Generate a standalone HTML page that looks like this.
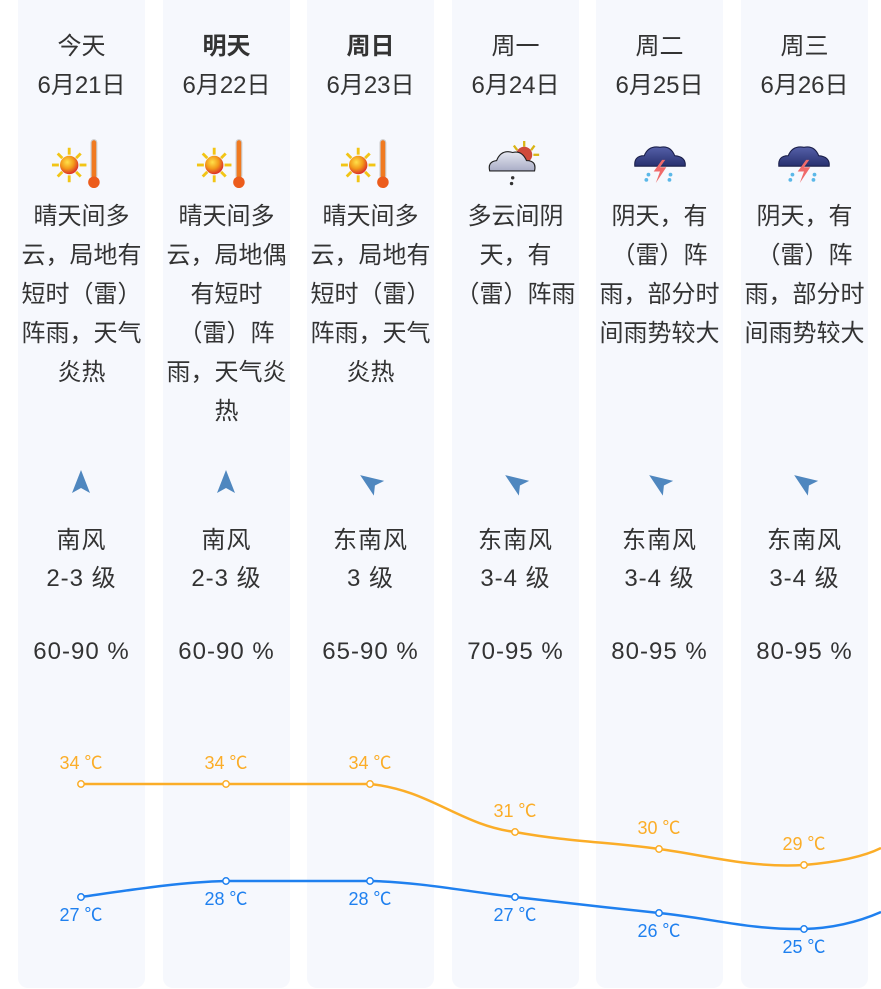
<!DOCTYPE html>
<html><head><meta charset="utf-8">
<style>
html,body{margin:0;padding:0;background:#fff;width:881px;height:989px;overflow:hidden;position:relative;font-family:"Liberation Sans","Noto Sans CJK SC",sans-serif;color:#333}
.col{position:absolute;top:-12px;width:127px;height:1000px;background:#f6f8fd;border-radius:10px}
.t{position:absolute;width:127px;text-align:center;font-size:24px;line-height:39px;white-space:nowrap}
.n{letter-spacing:1px}
svg{position:absolute;left:0;top:0}
</style></head><body>
<div class="col" style="left:18px"></div>
<div class="col" style="left:163px"></div>
<div class="col" style="left:307px"></div>
<div class="col" style="left:452px"></div>
<div class="col" style="left:596px"></div>
<div class="col" style="left:741px"></div>

<div class="t" style="left:18px;top:27px">今天<br>6月21日</div>
<div class="t" style="left:163px;top:27px"><b>明天</b><br>6月22日</div>
<div class="t" style="left:307px;top:27px"><b>周日</b><br>6月23日</div>
<div class="t" style="left:452px;top:27px">周一<br>6月24日</div>
<div class="t" style="left:596px;top:27px">周二<br>6月25日</div>
<div class="t" style="left:741px;top:27px">周三<br>6月26日</div>

<div class="t" style="left:18px;top:197px">晴天间多<br>云，局地有<br>短时（雷）<br>阵雨，天气<br>炎热</div>
<div class="t" style="left:163px;top:197px">晴天间多<br>云，局地偶<br>有短时<br>（雷）阵<br>雨，天气炎<br>热</div>
<div class="t" style="left:307px;top:197px">晴天间多<br>云，局地有<br>短时（雷）<br>阵雨，天气<br>炎热</div>
<div class="t" style="left:452px;top:197px">多云间阴<br>天，有<br>（雷）阵雨</div>
<div class="t" style="left:596px;top:197px">阴天，有<br>（雷）阵<br>雨，部分时<br>间雨势较大</div>
<div class="t" style="left:741px;top:197px">阴天，有<br>（雷）阵<br>雨，部分时<br>间雨势较大</div>

<div class="t n" style="left:18px;top:522px;line-height:38px">南风<br>2-3 级</div>
<div class="t n" style="left:163px;top:522px;line-height:38px">南风<br>2-3 级</div>
<div class="t n" style="left:307px;top:522px;line-height:38px">东南风<br>3 级</div>
<div class="t n" style="left:452px;top:522px;line-height:38px">东南风<br>3-4 级</div>
<div class="t n" style="left:596px;top:522px;line-height:38px">东南风<br>3-4 级</div>
<div class="t n" style="left:741px;top:522px;line-height:38px">东南风<br>3-4 级</div>

<div class="t n" style="left:18px;top:632px">60-90 %</div>
<div class="t n" style="left:163px;top:632px">60-90 %</div>
<div class="t n" style="left:307px;top:632px">65-90 %</div>
<div class="t n" style="left:452px;top:632px">70-95 %</div>
<div class="t n" style="left:596px;top:632px">80-95 %</div>
<div class="t n" style="left:741px;top:632px">80-95 %</div>

<svg width="881" height="989" viewBox="0 0 881 989">
<defs>
<radialGradient id="sun" cx="0.4" cy="0.35" r="0.7"><stop offset="0" stop-color="#ffe04a"/><stop offset="0.5" stop-color="#f39a1a"/><stop offset="1" stop-color="#d8202a"/></radialGradient>
<linearGradient id="cl" x1="0" y1="0" x2="0" y2="1"><stop offset="0" stop-color="#e4e6f0"/><stop offset="1" stop-color="#a9adc6"/></linearGradient>
<linearGradient id="dc" x1="0" y1="0" x2="0" y2="1"><stop offset="0" stop-color="#5560a8"/><stop offset="1" stop-color="#27306f"/></linearGradient>
<g id="hot">
<g stroke="#f2c515" stroke-width="2.5">
<line x1="-27" y1="0" x2="-21" y2="0"/><line x1="-3" y1="0" x2="3" y2="0"/>
<line x1="-12" y1="-15" x2="-12" y2="-9"/><line x1="-12" y1="9" x2="-12" y2="15"/>
<line x1="-22" y1="-10" x2="-18" y2="-6"/><line x1="-6" y1="6" x2="-2" y2="10"/>
<line x1="-22" y1="10" x2="-18" y2="6"/><line x1="-6" y1="-6" x2="-2" y2="-10"/>
</g>
<circle cx="-12" cy="0" r="8" fill="url(#sun)"/>
<rect x="7" y="-22" width="5" height="34" rx="2.5" fill="#f07a20" stroke="#ccc" stroke-width="1"/>
<circle cx="9.5" cy="15" r="5" fill="#ec5c1c"/>
</g>
<g id="pc">
<g stroke="#d9b415" stroke-width="2"><line x1="8" y1="-20" x2="8" y2="-15"/><line x1="17" y1="-16" x2="14" y2="-12"/><line x1="-1" y1="-16" x2="2" y2="-12"/><line x1="21" y1="-8" x2="16" y2="-8"/></g>
<circle cx="8" cy="-8" r="7" fill="#d04a3a"/>
<path d="M-22 6 Q-24 -2 -16 -3 Q-12 -13 -2 -10 Q6 -12 10 -3 Q19 -3 17 6 Z" fill="url(#cl)" stroke="#222" stroke-width="1"/>
<circle cx="-2" cy="12" r="1.5" fill="#333"/><circle cx="-3" cy="17" r="1.5" fill="#333"/>
</g>
<g id="st">
<path d="M-24 4 Q-25 -6 -15 -6 Q-11 -16 0 -14 Q10 -16 14 -6 Q25 -5 24 4 Z" fill="url(#dc)" stroke="#1a1f4a" stroke-width="1"/>
<path d="M2 -2 L-6 9 L0 9 L-4 20 L6 5 L0 5 L5 -2 Z" fill="#f06a6a"/>
<g fill="#5bb8e8"><circle cx="-11" cy="12" r="1.8"/><circle cx="-13" cy="17" r="1.8"/><circle cx="10" cy="12" r="1.8"/><circle cx="9" cy="17" r="1.8"/></g>
</g>
<path id="ar" d="M0 -12 L9 11 L0 6 L-9 11 Z" fill="#4f87bf"/>
</defs>
<use href="#hot" transform="translate(83,165) scale(1.15)"/>
<use href="#hot" transform="translate(228,165) scale(1.15)"/>
<use href="#hot" transform="translate(372,165) scale(1.15)"/>
<use href="#pc" transform="translate(515,164) scale(1.15)"/>
<use href="#st" transform="translate(660,162) scale(1.05)"/>
<use href="#st" transform="translate(804,162) scale(1.05)"/>

<use href="#ar" transform="translate(81,482)"/>
<use href="#ar" transform="translate(226,482)"/>
<use href="#ar" transform="translate(370,482) rotate(-55)"/>
<use href="#ar" transform="translate(515,482) rotate(-55)"/>
<use href="#ar" transform="translate(659,482) rotate(-55)"/>
<use href="#ar" transform="translate(804,482) rotate(-55)"/>

<path d="M81 784 L226 784 L370 784 C430 790 460 825 515 832 C570 842 610 842 659 849 C710 856 750 868 804 865 C840 862 865 856 881 848" fill="none" stroke="#fbad28" stroke-width="2.5"/>
<path d="M81 897 C130 890 180 882 226 881 L370 881 C420 882 470 892 515 897 C570 903 610 908 659 913 C710 918 750 930 804 929 C840 928 865 919 881 912" fill="none" stroke="#1f80ef" stroke-width="2.5"/>
<g fill="#fff" stroke="#fbad28" stroke-width="1.5">
<circle cx="81" cy="784" r="3.2"/><circle cx="226" cy="784" r="3.2"/><circle cx="370" cy="784" r="3.2"/><circle cx="515" cy="832" r="3.2"/><circle cx="659" cy="849" r="3.2"/><circle cx="804" cy="865" r="3.2"/>
</g>
<g fill="#fff" stroke="#1f80ef" stroke-width="1.5">
<circle cx="81" cy="897" r="3.2"/><circle cx="226" cy="881" r="3.2"/><circle cx="370" cy="881" r="3.2"/><circle cx="515" cy="897" r="3.2"/><circle cx="659" cy="913" r="3.2"/><circle cx="804" cy="929" r="3.2"/>
</g>
<g font-family="Liberation Sans, Noto Sans CJK SC, sans-serif" font-size="18" text-anchor="middle" fill="#fbad28">
<text x="81" y="769">34 ℃</text><text x="226" y="769">34 ℃</text><text x="370" y="769">34 ℃</text><text x="515" y="817">31 ℃</text><text x="659" y="834">30 ℃</text><text x="804" y="850">29 ℃</text>
</g>
<g font-family="Liberation Sans, Noto Sans CJK SC, sans-serif" font-size="18" text-anchor="middle" fill="#1f80ef">
<text x="81" y="921">27 ℃</text><text x="226" y="905">28 ℃</text><text x="370" y="905">28 ℃</text><text x="515" y="921">27 ℃</text><text x="659" y="937">26 ℃</text><text x="804" y="953">25 ℃</text>
</g>
</svg>
</body></html>
